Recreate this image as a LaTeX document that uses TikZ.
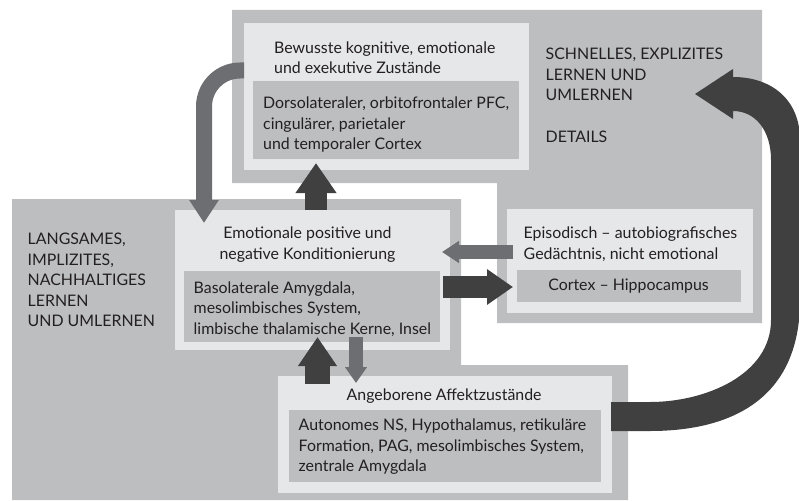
\documentclass[tikz,border=0pt]{standalone}
\usepackage{fontspec}
\setmainfont{Lato}
\usetikzlibrary{arrows.meta,calc}
\definecolor{regiongray}{HTML}{BCBEC0}
\definecolor{lightfill}{HTML}{E6E7E8}
\definecolor{darkcol}{HTML}{404041}
\definecolor{midcol}{HTML}{6D6E71}
\definecolor{textcol}{HTML}{231F20}
\begin{document}
\begin{tikzpicture}[x=1pt,y=-1pt,
  lightbox/.style={fill=lightfill, inner sep=0pt, outer sep=0pt, anchor=north west},
  innerbox/.style={fill=regiongray, inner sep=0pt, outer sep=0pt, anchor=north west},
  txt/.style={anchor=base west, inner sep=0pt, align=left, text=textcol, font=\fontsize{15.9}{20.5}\selectfont},
  ctxt/.style={anchor=base, inner sep=0pt, align=center, text=textcol, font=\fontsize{15.9}{20.5}\selectfont},
  darkarrow/.style={draw=darkcol, line width=#1},
  midarrow/.style={draw=midcol, line width=#1}]
\useasboundingbox (0,0) rectangle (799,500);
\begin{scope}
\clip (0,0) rectangle (799,500);
% regions
\fill[regiongray] (232,10) -- (762,10) -- (762,323) -- (497,323) -- (497,183) -- (232,183) -- cycle;
\fill[regiongray] (12,199) -- (461,199) -- (461,365) -- (628,365) -- (628,500) -- (12,500) -- cycle;
% boxes
\node[lightbox, minimum width=285pt, minimum height=147pt] (topbox) at (244,23) {};
\node[innerbox, minimum width=266pt, minimum height=78pt] (topin) at (253,81) {};
\node[lightbox, minimum width=275pt, minimum height=140pt] (emo) at (175,210) {};
\node[innerbox, minimum width=256pt, minimum height=71pt] (emoin) at (184,271) {};
\node[lightbox, minimum width=246pt, minimum height=104pt] (epi) at (507,209) {};
\node[innerbox, minimum width=224pt, minimum height=32pt] (epiin) at (517,270) {};
\node[lightbox, minimum width=334pt, minimum height=117pt] (bot) at (278,376) {};
\node[innerbox, minimum width=312pt, minimum height=72pt] (botin) at (289,410) {};
% texts (base anchor = baseline of the last line)
\node[txt] (t1) at (274,74) {Bewusste kognitive, emotionale\\und exekutive Zustände};
\node[txt] (t2) at (263,149.5) {Dorsolateraler, orbitofrontaler PFC,\\cingulärer, parietaler\\und temporaler Cortex};
\node[txt] (t3) at (545.5,142) {SCHNELLES, EXPLIZITES\\LERNEN UND\\UMLERNEN\\[20.5pt]DETAILS};
\node[txt] (t4) at (27.5,326.5) {LANGSAMES,\\IMPLIZITES,\\NACHHALTIGES\\LERNEN\\UND UMLERNEN};
\node[ctxt] (t5) at (307.5,259) {Emotionale positive und\\negative Konditionierung};
\node[txt] (t6) at (193.5,334) {Basolaterale Amygdala,\\mesolimbisches System,\\limbische thalamische Kerne, Insel};
\node[txt] (t7) at (523.5,259) {Episodisch -- autobiografisches\\Gedächtnis, nicht emotional};
\node[ctxt] (t8) at (628.5,290) {Cortex -- Hippocampus};
\node[txt] (t9) at (346.5,400) {Angeborene Affektzustände};
\node[txt] (t10) at (298.5,471.5) {Autonomes NS, Hypothalamus, retikuläre\\Formation, PAG, mesolimbisches System,\\zentrale Amygdala};
% arrows
\draw[midarrow=16pt, rounded corners=36pt, -{Triangle[length=23pt,width=28pt]}]
  ($(topbox.north west)+(0,47.5)$) -| ($(emo.north west)+(29,13)$);
\draw[darkarrow=22pt, -{Triangle[length=30pt,width=39pt]}]
  ($(emo.north west)+(141,0)$) -- ($(topbox.south west)+(72,-7)$);
\draw[midarrow=14pt, -{Triangle[length=17pt,width=21pt]}]
  ($(epi.north west)+(6,43)$) -- ($(emo.north east)+(-8,42)$);
\draw[darkarrow=22pt, -{Triangle[length=26pt,width=34pt]}]
  ($(emo.north east)+(-7,77)$) -- ($(epi.north west)+(6,78)$);
\draw[darkarrow=25pt, -{Triangle[length=29pt,width=37pt]}]
  ($(bot.north west)+(39.5,8)$) -- ($(emo.south west)+(142.5,-13)$);
\draw[midarrow=14pt, -{Triangle[length=16pt,width=21pt]}]
  ($(emo.south west)+(181,-13)$) -- ($(bot.north west)+(78,7)$);
% big curved arrow from the innate states box back to the explicit learning region
\coordinate (bigstart) at ($(bot.north east)+(-1,26)$);
\coordinate (bigend) at (695,94);
\fill[darkcol] (bigstart) -- (650,402) .. controls (705,402) and (771,375) .. (771,320)
  -- (771,160) .. controls (771,130) and (755,111) .. (733,111)
  -- (733,119) -- (bigend) -- (733,69) -- (733,77)
  .. controls (772,77) and (800,100) .. (800,140) -- (800,300)
  .. controls (800,400) and (730,431) .. (650,431) -- ($(bigstart)+(0,29)$) -- cycle;
\end{scope}
\end{tikzpicture}
\end{document}
